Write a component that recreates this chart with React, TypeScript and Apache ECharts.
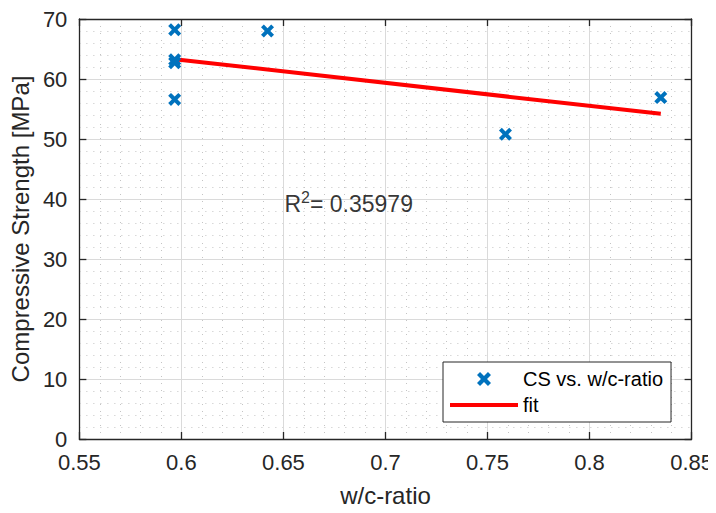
import React, { useEffect, useRef } from "react";
import * as echarts from "echarts";

// Measured compressive strength against water/cement ratio
const wcRatio = [0.5967, 0.5967, 0.5967, 0.5967, 0.6422, 0.7588, 0.8349];
const strength = [68.2, 63.2, 62.7, 56.6, 68.0, 50.8, 56.9];

// Linear fit evaluated at the ends of the measured range
const fitX = [0.5967, 0.8349];
const fitY = [63.3, 54.2];

const rSquared = "0.35979";
const rLabelPos = [0.6505, 39.2];

const xTicks = { min: 0.55, max: 0.85, interval: 0.05 };
const yTicks = { min: 0, max: 70, interval: 10 };

const FONT = "'Liberation Sans', Arial, Helvetica, sans-serif";
const AXIS_COLOR = "#262626";
const BLUE = "#0072BD";
// bold "x" marker
const CROSS =
  "path://M0,2.6L2.6,0L6,3.4L9.4,0L12,2.6L8.6,6L12,9.4L9.4,12L6,8.6L2.6,12L0,9.4L3.4,6Z";
// legend swatch for the fit: a 4px bar centred in a 68x14 box
const FIT_ICON =
  "path://M0,0H0.01V0.01H0Z M0,5H68V9H0Z M67.99,13.99H68V14H67.99Z";

export default function App() {
  const ref = useRef<HTMLDivElement>(null);

  useEffect(() => {
    if (!ref.current) return;
    const chart = echarts.init(ref.current, undefined, { renderer: "svg" });

    const majorGrid = { show: true, lineStyle: { color: "#dadada", width: 1 } };
    const minorGrid = {
      show: true,
      lineStyle: { color: "#c4c4c4", width: 1, type: [1, 6] as any },
    };
    const tick = { show: true, inside: true, length: 7, lineStyle: { color: AXIS_COLOR, width: 1.3 } };
    const line = { show: true, onZero: false, lineStyle: { color: AXIS_COLOR, width: 1.3 } };
    const label = { color: AXIS_COLOR, fontSize: 22, fontFamily: FONT };

    chart.setOption({
      animation: false,
      backgroundColor: "#ffffff",
      textStyle: { fontFamily: FONT },
      grid: { left: 77, right: 24, top: 19, bottom: 74, containLabel: false },
      xAxis: [
        {
          type: "value",
          ...xTicks,
          axisLine: line,
          axisTick: tick,
          axisLabel: { ...label, margin: 12, formatter: (v: number) => String(+v.toFixed(2)) },
          splitLine: majorGrid,
          minorTick: { show: false, splitNumber: 5 },
          minorSplitLine: minorGrid,
          name: "w/c-ratio",
          nameLocation: "middle",
          nameGap: 44,
          nameTextStyle: { color: AXIS_COLOR, fontSize: 24, fontFamily: FONT },
        },
        {
          type: "value",
          position: "top",
          ...xTicks,
          axisLine: line,
          axisTick: tick,
          axisLabel: { show: false },
          splitLine: { show: false },
        },
      ],
      yAxis: [
        {
          type: "value",
          ...yTicks,
          axisLine: line,
          axisTick: tick,
          axisLabel: { ...label, margin: 12 },
          splitLine: majorGrid,
          minorTick: { show: false, splitNumber: 5 },
          minorSplitLine: minorGrid,
          name: "Compressive Strength [MPa]",
          nameLocation: "middle",
          nameGap: 42,
          nameTextStyle: { color: AXIS_COLOR, fontSize: 24, fontFamily: FONT },
        },
        {
          type: "value",
          position: "right",
          ...yTicks,
          axisLine: line,
          axisTick: tick,
          axisLabel: { show: false },
          splitLine: { show: false },
        },
      ],
      legend: {
        orient: "vertical",
        left: 443,
        top: 362,
        selectedMode: false,
        backgroundColor: "#ffffff",
        borderColor: AXIS_COLOR,
        borderWidth: 1,
        borderRadius: 0,
        padding: [7, 8, 7, 7],
        itemWidth: 68,
        itemHeight: 14,
        itemGap: 6,
        textStyle: { color: "#000000", fontSize: 20, fontFamily: FONT },
        data: [
          { name: "CS vs. w/c-ratio", icon: CROSS },
          { name: "fit", icon: FIT_ICON },
        ],
      },
      series: [
        {
          name: "CS vs. w/c-ratio",
          type: "scatter",
          symbol: CROSS,
          symbolSize: 13,
          symbolKeepAspect: true,
          itemStyle: { color: BLUE, opacity: 1 },
          data: wcRatio.map((x, i) => [x, strength[i]]),
          z: 3,
        },
        {
          name: "fit",
          type: "line",
          symbol: "none",
          showSymbol: false,
          lineStyle: { color: "#ff0000", width: 4 },
          itemStyle: { color: "#ff0000" },
          data: fitX.map((x, i) => [x, fitY[i]]),
          z: 2,
        },
        {
          name: "R2",
          type: "scatter",
          symbolSize: 0,
          silent: true,
          data: [rLabelPos],
          label: {
            show: true,
            position: "right",
            distance: 0,
            formatter: "{b|R}{sup|2}{b|= " + rSquared + "}",
            rich: {
              b: { fontSize: 23, color: "#000000", fontFamily: FONT, lineHeight: 28 },
              sup: { fontSize: 16, color: "#000000", fontFamily: FONT, verticalAlign: "top", lineHeight: 18 },
            },
          },
        },
      ],
    });

    return () => chart.dispose();
  }, []);

  return <div ref={ref} style={{ width: 716, height: 513, margin: -8 }} />;
}
